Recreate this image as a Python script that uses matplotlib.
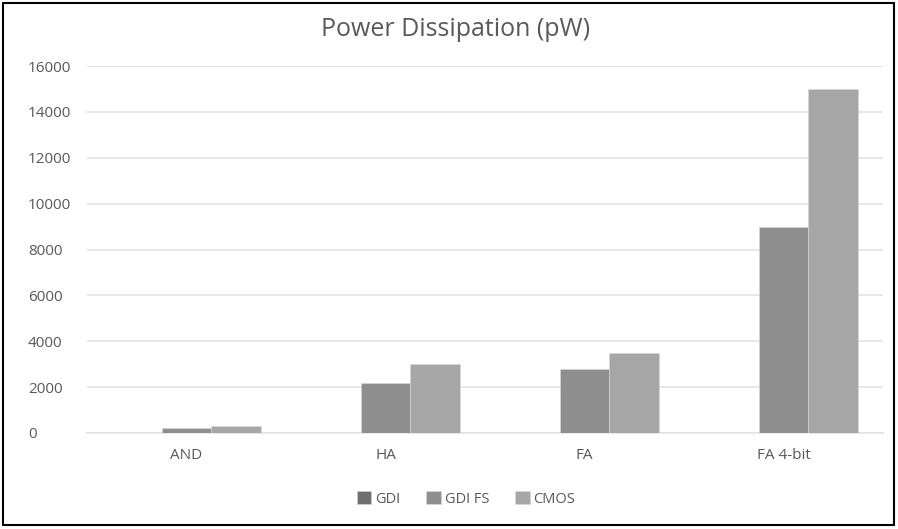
import matplotlib
matplotlib.use("Agg")
import matplotlib.pyplot as plt
import numpy as np
from matplotlib.patches import Rectangle

categories = ["AND", "HA", "FA", "FA 4-bit"]
series_names = ["GDI", "GDI FS", "CMOS"]
gdi = [0, 0, 0, 0]
gdi_fs = [200, 2200, 2800, 9000]
cmos = [300, 3000, 3500, 15000]
yticks = [0, 2000, 4000, 6000, 8000, 10000, 12000, 14000, 16000]

colors = ["#6f6f6f", "#8e8e8e", "#a6a6a6"]
font = ["Open Sans", "DejaVu Sans"]
plt.rcParams['font.family'] = font

W, H = 898, 529
fig = plt.figure(figsize=(W / 100, H / 100), dpi=100)
fig.patch.set_facecolor("white")

# plot area in pixels
left, right, top, bottom = 87, 883, 66, 433
ax = fig.add_axes([left / W, 1 - bottom / H, (right - left) / W, (bottom - top) / H])

x = np.arange(len(categories))
w = 0.25
for i, (vals, name) in enumerate(zip([gdi, gdi_fs, cmos], series_names)):
    ax.bar(x + (i - 1) * w, vals, width=w, color=colors[i], label=name,
           edgecolor="#d9d9d9", linewidth=0.4, zorder=3)

ax.set_xlim(-0.5, len(categories) - 0.5)
ax.set_ylim(0, 16000)
ax.set_yticks(yticks)
ax.set_yticklabels([str(v) for v in yticks])
ax.set_xticks(x)
ax.set_xticklabels(categories)
ax.grid(axis="y", color="#e3e3e3", linewidth=1.2, zorder=0)
for s in ["left", "right", "top"]:
    ax.spines[s].set_visible(False)
ax.spines["bottom"].set_color("#e3e3e3")
ax.spines["bottom"].set_linewidth(1.2)
ax.tick_params(axis="both", length=0, colors="#595959", labelsize=11)
ax.tick_params(axis="x", pad=11)
ax.tick_params(axis="y", pad=42.5)
for lab in ax.get_yticklabels():
    lab.set_horizontalalignment("left")

fig.text(456 / W, 1 - 30 / H, "Power Dissipation (pW)", ha="center", va="center",
         fontsize=18, color="#595959")

leg = fig.legend(loc="center", bbox_to_anchor=(466 / W, 1 - 499 / H), ncol=3,
                 frameon=False, fontsize=10.5, handlelength=1.0, handleheight=1.0,
                 handletextpad=0.25, columnspacing=1.8)
for t in leg.get_texts():
    t.set_color("#595959")

# outer border
fig.patches.append(Rectangle((3 / W, 4 / H), (W - 7) / W, (H - 7) / H,
                             transform=fig.transFigure, fill=False,
                             edgecolor="black", linewidth=1.5))

fig.savefig("out.png", dpi=100, facecolor="white")
